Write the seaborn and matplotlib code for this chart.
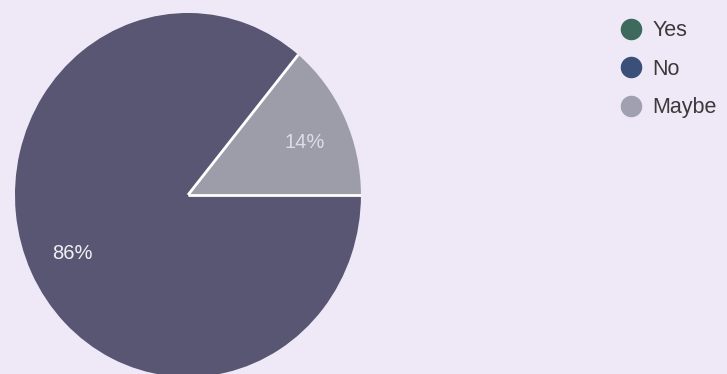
import numpy as np
import matplotlib
matplotlib.use("Agg")
import matplotlib.pyplot as plt
import seaborn as sns
from matplotlib.lines import Line2D

# data
answers = ["Yes", "No", "Maybe"]
shares = [86, 0, 14]
colors = ["#585672", "#3b5078", "#9d9daa"]
legend_colors = ["#3d6a5c", "#3b5078", "#a0a1b0"]

sns.set_theme(style="white")
plt.rcParams["font.family"] = ["Liberation Sans", "DejaVu Sans"]

bg = "#efe9f7"
fig = plt.figure(figsize=(7.27, 3.74), dpi=100, facecolor=bg)
# the scan is slightly stretched vertically, so the pie is a little oval
ax = fig.add_axes([0.0206, -0.008, 0.4759, 0.9733])
ax.set_facecolor(bg)

vals = [v for v in shares if v > 0]
cols = [c for v, c in zip(shares, colors) if v > 0]
wedges, texts, autotexts = ax.pie(
    vals, colors=cols, startangle=0, counterclock=False,
    autopct="%d%%", pctdistance=0.7,
    wedgeprops=dict(linewidth=0),
    textprops=dict(color="#f0f0f4", fontsize=14.5),
)
# white separators between slices only (no outer ring)
for w in wedges:
    t = np.deg2rad(w.theta1)
    ax.plot([0, np.cos(t)], [0, np.sin(t)], color="white", lw=2, solid_capstyle="butt")

# label spots as placed in the original
autotexts[0].set_position((-0.67, -0.32))
autotexts[1].set_position((0.675, 0.286))
autotexts[1].set_color("#dcdce6")
ax.set_xlim(-1, 1)
ax.set_ylim(-1, 1)
ax.set_aspect("auto")
ax.axis("off")

handles = [Line2D([], [], marker="o", linestyle="", markersize=14.5,
                  markerfacecolor=c, markeredgecolor=c) for c in legend_colors]
fig.legend(handles, answers, loc="upper left", bbox_to_anchor=(0.853, 0.946),
           frameon=False, fontsize=15.5, handletextpad=0.5, labelspacing=0.81,
           labelcolor="#3a3a3a", handlelength=1.0, borderpad=0, borderaxespad=0)

fig.savefig("out.png", dpi=100, facecolor=bg)
